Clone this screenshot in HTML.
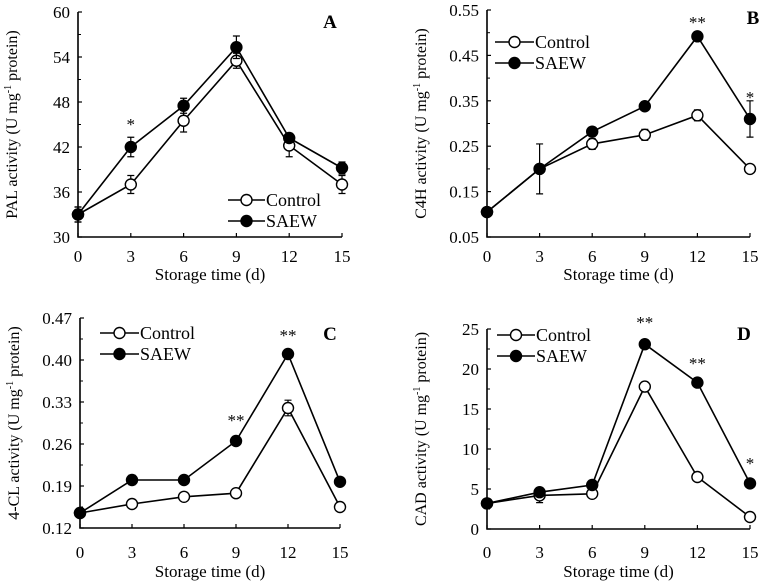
<!DOCTYPE html>
<html><head><meta charset="utf-8"><style>
body{margin:0;background:#fff;}
svg text{font-family:"Liberation Serif",serif;fill:#000;}
</style></head><body>
<svg id="fig" width="764" height="582" xmlns="http://www.w3.org/2000/svg"></svg>
<script>
const days=[0,3,6,9,12,15];
const aTicks=[30,36,42,48,54,60];
const aControl=[33,37,45.5,53.5,42.2,37];
const aControlErr=[1,1.2,1.5,1,1.5,1.2];
const aSaew=[33,42,47.5,55.3,43.2,39.2];
const aSaewErr=[1,1.3,1,1.5,0.6,0.8];
const bTicks=[0.05,0.15,0.25,0.35,0.45,0.55];
const bControl=[0.105,0.2,0.255,0.275,0.318,0.2];
const bControlErr=[0.005,0.01,0.012,0.012,0.012,0.006];
const bSaew=[0.105,0.2,0.282,0.338,0.492,0.31];
const bSaewErr=[0.005,0.055,0.01,0.008,0.006,0.04];
const cTicks=[0.12,0.19,0.26,0.33,0.40,0.47];
const cControl=[0.145,0.16,0.172,0.178,0.32,0.155];
const cControlErr=[0.003,0.006,0.007,0.007,0.013,0.003];
const cSaew=[0.145,0.2,0.2,0.265,0.41,0.197];
const cSaewErr=[0.003,0.008,0.004,0.003,0.004,0.003];
const dTicks=[0,5,10,15,20,25];
const dControl=[3.2,4.2,4.4,17.8,6.5,1.5];
const dControlErr=[0.3,0.9,0.3,0.3,0.3,0.2];
const dSaew=[3.2,4.6,5.5,23.1,18.3,5.7];
const dSaewErr=[0.3,0.4,0.3,0.4,0.4,0.3];

const NS="http://www.w3.org/2000/svg";
const svg=document.getElementById('fig');
function mk(tag,attrs,parent,txt){const e=document.createElementNS(NS,tag);for(const k in attrs)e.setAttribute(k,attrs[k]);if(txt!==undefined)e.textContent=txt;(parent||svg).appendChild(e);return e;}

const panels=[
 {id:'a',x0:78,x1:342,yt:12,yb:237,ticks:aTicks,fmt:v=>String(v),c:aControl,ce:aControlErr,s:aSaew,se:aSaewErr,ytitle:'PAL activity',letter:'A',lx:330,ly:28,leg:[228,265,200],tickY:262,titleY:280,stars:[[3,'*',130]]},
 {id:'b',x0:487,x1:750,yt:10,yb:237,ticks:bTicks,fmt:v=>v.toFixed(2),c:bControl,ce:bControlErr,s:bSaew,se:bSaewErr,ytitle:'C4H activity',letter:'B',lx:753,ly:24,leg:[495,534,42],tickY:262,titleY:280,stars:[[12,'**',28],[15,'*',103]]},
 {id:'c',x0:80,x1:340,yt:318,yb:528,ticks:cTicks,fmt:v=>v.toFixed(2),c:cControl,ce:cControlErr,s:cSaew,se:cSaewErr,ytitle:'4-CL activity',letter:'C',lx:330,ly:340,leg:[100,139,333],tickY:558,titleY:577,stars:[[9,'**',426],[12,'**',341]]},
 {id:'d',x0:487,x1:750,yt:329,yb:529,ticks:dTicks,fmt:v=>String(v),c:dControl,ce:dControlErr,s:dSaew,se:dSaewErr,ytitle:'CAD activity',letter:'D',lx:744,ly:340,leg:[497,535,335],tickY:558,titleY:577,stars:[[9,'**',328],[12,'**',369],[15,'*',469]]}
];

panels.forEach(p=>{
 const g=mk('g',{});
 
 
 const lo=p.ticks[0],hi=p.ticks[p.ticks.length-1];
 const X=d=>p.x0+(d-days[0])/(days[days.length-1]-days[0])*(p.x1-p.x0);
 const Y=v=>p.yb-(v-lo)/(hi-lo)*(p.yb-p.yt);
 const ax=mk('path',{d:`M${p.x0},${p.yt}V${p.yb}H${p.x1}`,stroke:'#000','stroke-width':1.6,fill:'none'},g);
 
 
 p.ticks.forEach(t=>{
  mk('line',{x1:p.x0,x2:p.x0+4,y1:Y(t),y2:Y(t),stroke:'#000','stroke-width':1.2},g);
  const tl=mk('text',{x:p.x0-8,y:Y(t)+6,'text-anchor':'end','font-size':17},g,p.fmt(t));
  
  
 });
 for(let i=0;i<p.ticks.length-1;i++){const m=(p.ticks[i]+p.ticks[i+1])/2;mk('line',{x1:p.x0,x2:p.x0+3,y1:Y(m),y2:Y(m),stroke:'#000','stroke-width':1},g);}
 days.forEach(d=>{
  mk('line',{x1:X(d),x2:X(d),y1:p.yb,y2:p.yb-4,stroke:'#000','stroke-width':1.2},g);
  const tl=mk('text',{x:X(d),y:p.tickY,'text-anchor':'middle','font-size':17},g,String(d));
  
  
 });
 const xt=mk('text',{x:(p.x0+p.x1)/2,y:p.titleY,'text-anchor':'middle','font-size':17},g,'Storage time (d)');
 
 
 const cy=(p.yt+p.yb)/2, tx=p.x0-61;
 const yt=mk('text',{x:tx,y:cy,'text-anchor':'middle','font-size':16,transform:`rotate(-90 ${tx} ${cy})`},g);
 
 
 mk('tspan',{},yt,p.ytitle+' (U mg');
 mk('tspan',{'font-size':10,dy:-6},yt,'-1');
 mk('tspan',{dy:6},yt,' protein)');
 const lt=mk('text',{x:p.lx,y:p.ly,'text-anchor':'middle','font-size':19,'font-weight':'bold'},g,p.letter);
 
 
 [[p.c,p.ce,'#fff','control'],[p.s,p.se,'#000','saew']].forEach(([vals,errs,fill,nm])=>{
  const pts=vals.map((v,i)=>X(days[i])+','+Y(v)).join(' ');
  const pl=mk('polyline',{points:pts,fill:'none',stroke:'#000','stroke-width':1.6},g);
  
  
  vals.forEach((v,i)=>{
   const x=X(days[i]),y1=Y(v+errs[i]),y2=Y(v-errs[i]);
   mk('path',{d:`M${x},${y1}V${y2}M${x-3.5},${y1}H${x+3.5}M${x-3.5},${y2}H${x+3.5}`,stroke:'#000','stroke-width':1.2,fill:'none'},g);
  });
  vals.forEach((v,i)=>{
   const c=mk('circle',{cx:X(days[i]),cy:Y(v),r:5.5,fill:fill,stroke:'#000','stroke-width':1.4},g);
   
   
  });
 });
 p.stars.forEach(([d,s,y])=>{
  const st=mk('text',{x:X(d),y:y,'text-anchor':'middle','font-size':17},g,s);
  
  
 });
 const [l0,l1,ly]=p.leg;
 [['Control','#fff',0],['SAEW','#000',21]].forEach(([lab,fill,dy])=>{
  const lg=mk('g',{},g);
  
  
  mk('line',{x1:l0,x2:l1,y1:ly+dy,y2:ly+dy,stroke:'#000','stroke-width':1.6},lg);
  mk('circle',{cx:(l0+l1)/2,cy:ly+dy,r:5.5,fill:fill,stroke:'#000','stroke-width':1.4},lg);
  mk('text',{x:l1+1,y:ly+dy+6,'font-size':18},lg,lab);
 });
});
</script>
</body></html>
